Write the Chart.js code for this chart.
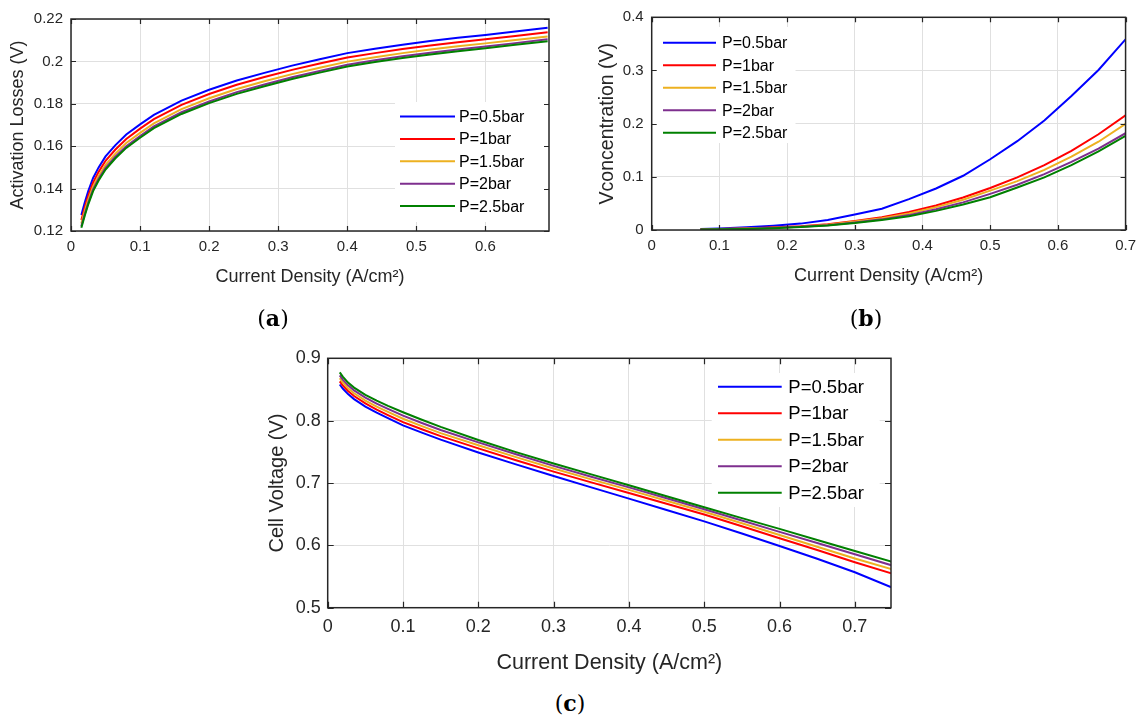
<!DOCTYPE html>
<html><head><meta charset="utf-8">
<script src="https://cdn.jsdelivr.net/npm/chart.js@4/dist/chart.umd.min.js"></script>
<style>
html,body{margin:0;padding:0;background:#fff;}
body{width:1143px;height:720px;position:relative;overflow:hidden;}
canvas{position:absolute;}
.cap{position:absolute;font-family:"DejaVu Serif","Liberation Serif",serif;font-size:22px;color:#000;transform:translate(-50%,-50%);white-space:nowrap;}
</style></head><body>
<canvas id="ca" width="570" height="300" style="left:0;top:0;width:570px;height:300px"></canvas>
<canvas id="cb" width="563" height="300" style="left:580px;top:0;width:563px;height:300px"></canvas>
<canvas id="cc" width="680" height="360" style="left:250px;top:330px;width:680px;height:360px"></canvas>
<div class="cap" style="left:273px;top:318px">(<b>a</b>)</div>
<div class="cap" style="left:866px;top:318px">(<b>b</b>)</div>
<div class="cap" style="left:570px;top:703px">(<b>c</b>)</div>
<script>
// ---------- shared ----------
const seriesLabels = ['P=0.5bar', 'P=1bar', 'P=1.5bar', 'P=2bar', 'P=2.5bar'];
const seriesColors = ['#0000FF', '#FF0000', '#EDB120', '#7E2F8E', '#008000'];
const xTitle = 'Current Density (A/cm²)';

// ---------- (a) Activation losses ----------
const xA = [0.015, 0.02, 0.025, 0.032, 0.04, 0.05, 0.064, 0.08, 0.1, 0.12, 0.16, 0.2, 0.24, 0.28, 0.32, 0.36, 0.4, 0.44, 0.48, 0.52, 0.56, 0.6, 0.64, 0.69];
const actP05 = [0.1275, 0.1335, 0.1388, 0.1450, 0.1500, 0.1552, 0.1604, 0.1655, 0.1703, 0.1748, 0.1815, 0.1866, 0.1910, 0.1946, 0.1980, 0.2010, 0.2039, 0.2060, 0.2079, 0.2096, 0.2111, 0.2125, 0.2140, 0.2159];
const actP1  = [0.1252, 0.1312, 0.1366, 0.1428, 0.1479, 0.1531, 0.1583, 0.1634, 0.1683, 0.1728, 0.1795, 0.1846, 0.1890, 0.1926, 0.1960, 0.1990, 0.2018, 0.2039, 0.2058, 0.2075, 0.2090, 0.2104, 0.2119, 0.2137];
const actP15 = [0.1235, 0.1295, 0.1348, 0.1410, 0.1460, 0.1512, 0.1564, 0.1615, 0.1663, 0.1708, 0.1775, 0.1826, 0.1870, 0.1906, 0.1940, 0.1970, 0.1999, 0.2020, 0.2039, 0.2056, 0.2071, 0.2085, 0.2100, 0.2118];
const actP2  = [0.1222, 0.1281, 0.1334, 0.1396, 0.1446, 0.1498, 0.1550, 0.1600, 0.1648, 0.1693, 0.1760, 0.1811, 0.1855, 0.1891, 0.1925, 0.1955, 0.1984, 0.2005, 0.2024, 0.2041, 0.2056, 0.2070, 0.2085, 0.2104];
const actP25 = [0.1215, 0.1273, 0.1326, 0.1388, 0.1438, 0.1490, 0.1542, 0.1592, 0.1640, 0.1685, 0.1752, 0.1803, 0.1847, 0.1883, 0.1917, 0.1947, 0.1976, 0.1997, 0.2016, 0.2033, 0.2048, 0.2062, 0.2077, 0.2095];
const xTicksA = [0, 0.1, 0.2, 0.3, 0.4, 0.5, 0.6];
const xTickLabelsA = ['0', '0.1', '0.2', '0.3', '0.4', '0.5', '0.6'];
const yTicksA = [0.12, 0.14, 0.16, 0.18, 0.2, 0.22];
const yTickLabelsA = ['0.12', '0.14', '0.16', '0.18', '0.2', '0.22'];

// ---------- (b) Concentration losses ----------
const xB = [0.072, 0.1, 0.14, 0.18, 0.22, 0.26, 0.3, 0.34, 0.38, 0.42, 0.46, 0.5, 0.54, 0.58, 0.62, 0.66, 0.7];
const conP05 = [0.002, 0.003, 0.005, 0.008, 0.012, 0.019, 0.029, 0.040, 0.058, 0.078, 0.102, 0.133, 0.167, 0.206, 0.252, 0.301, 0.3586];
const conP1  = [0.001, 0.002, 0.003, 0.005, 0.007, 0.011, 0.017, 0.024, 0.034, 0.046, 0.061, 0.079, 0.099, 0.122, 0.149, 0.180, 0.2157];
const conP15 = [0.001, 0.002, 0.003, 0.004, 0.006, 0.010, 0.016, 0.022, 0.031, 0.043, 0.057, 0.074, 0.092, 0.113, 0.138, 0.166, 0.1995];
const conP2  = [0.001, 0.0015, 0.0025, 0.004, 0.006, 0.009, 0.014, 0.020, 0.028, 0.039, 0.052, 0.068, 0.085, 0.105, 0.128, 0.153, 0.182];
const conP25 = [0.0008, 0.0012, 0.002, 0.0035, 0.0055, 0.0085, 0.013, 0.019, 0.026, 0.036, 0.048, 0.0615, 0.080, 0.099, 0.122, 0.148, 0.177];
const xTicksB = [0, 0.1, 0.2, 0.3, 0.4, 0.5, 0.6, 0.7];
const xTickLabelsB = ['0', '0.1', '0.2', '0.3', '0.4', '0.5', '0.6', '0.7'];
const yTicksB = [0, 0.1, 0.2, 0.3, 0.4];
const yTickLabelsB = ['0', '0.1', '0.2', '0.3', '0.4'];

// ---------- (c) Cell voltage ----------
const xC = [0.016, 0.02, 0.027, 0.035, 0.05, 0.065, 0.08, 0.1, 0.125, 0.15, 0.2, 0.25, 0.3, 0.35, 0.4, 0.45, 0.5, 0.55, 0.6, 0.65, 0.7, 0.75];
const vP05 = [0.858, 0.8515, 0.8426, 0.8345, 0.8226, 0.8128, 0.8040, 0.7925, 0.7808, 0.7695, 0.749, 0.7298, 0.7113, 0.693, 0.675, 0.6567, 0.6384, 0.619, 0.599, 0.5785, 0.5569, 0.532];
const vP1  = [0.863, 0.8565, 0.8476, 0.8395, 0.8276, 0.8178, 0.8090, 0.7977, 0.7862, 0.7752, 0.7555, 0.7366, 0.7183, 0.7010, 0.684, 0.6667, 0.6494, 0.6307, 0.6115, 0.5925, 0.5729, 0.5545];
const vP15 = [0.868, 0.8612, 0.8520, 0.8440, 0.8322, 0.8225, 0.8140, 0.8030, 0.7913, 0.7800, 0.7605, 0.7415, 0.7232, 0.7058, 0.6890, 0.6715, 0.6540, 0.6355, 0.6165, 0.5978, 0.5790, 0.5615];
const vP2  = [0.8725, 0.8658, 0.8566, 0.8486, 0.8370, 0.8273, 0.8188, 0.8080, 0.7962, 0.7850, 0.7652, 0.7460, 0.7274, 0.7100, 0.6930, 0.6755, 0.6580, 0.6398, 0.6216, 0.6037, 0.5857, 0.5675];
const vP25 = [0.8774, 0.8705, 0.8610, 0.8530, 0.8415, 0.8320, 0.8237, 0.8135, 0.8015, 0.7900, 0.7689, 0.7495, 0.7313, 0.7138, 0.6964, 0.6787, 0.6611, 0.6437, 0.6264, 0.6087, 0.591, 0.5735];
const xTicksC = [0, 0.1, 0.2, 0.3, 0.4, 0.5, 0.6, 0.7];
const xTickLabelsC = ['0', '0.1', '0.2', '0.3', '0.4', '0.5', '0.6', '0.7'];
const yTicksC = [0.5, 0.6, 0.7, 0.8, 0.9];
const yTickLabelsC = ['0.5', '0.6', '0.7', '0.8', '0.9'];

// ---------- helpers ----------
Chart.defaults.font.family = '"Liberation Sans", Arial, Helvetica, sans-serif';
Chart.defaults.color = '#262626';

function makeDatasets(xs, ys) {
  return ys.map((arr, i) => ({
    label: seriesLabels[i],
    data: arr.map((v, k) => ({x: xs[k], y: v})),
    borderColor: seriesColors[i],
    backgroundColor: seriesColors[i],
    borderWidth: 2,
    pointRadius: 0,
    tension: 0,
    fill: false,
    order: ys.length - i
  }));
}

const matlabBox = {
  id: 'matlabBox',
  afterDraw(chart, args, o) {
    const ctx = chart.ctx;
    const {left, top, right, bottom} = chart.chartArea;
    const lg = o.legend;
    ctx.save();
    // legend
    ctx.fillStyle = '#fff';
    ctx.fillRect(lg.box[0], lg.box[1], lg.box[2], lg.box[3]);
    ctx.font = lg.font + 'px "Liberation Sans", Arial, sans-serif';
    ctx.textBaseline = 'middle';
    ctx.textAlign = 'left';
    chart.data.datasets.forEach((ds, i) => {
      const yy = lg.y0 + i * lg.dy;
      ctx.strokeStyle = ds.borderColor;
      ctx.lineWidth = 2;
      ctx.beginPath(); ctx.moveTo(lg.x1, yy); ctx.lineTo(lg.x2, yy); ctx.stroke();
      ctx.fillStyle = '#000';
      ctx.fillText(ds.label, lg.tx, yy + 1);
    });
    // inward ticks
    ctx.strokeStyle = '#262626';
    ctx.lineWidth = 1.2;
    const tl = o.tickLen;
    chart.scales.x.ticks.forEach(t => {
      const px = Math.round(chart.scales.x.getPixelForValue(t.value)) + 0.5;
      ctx.beginPath();
      ctx.moveTo(px, bottom); ctx.lineTo(px, bottom - tl);
      ctx.moveTo(px, top); ctx.lineTo(px, top + tl);
      ctx.stroke();
    });
    chart.scales.y.ticks.forEach(t => {
      const py = Math.round(chart.scales.y.getPixelForValue(t.value)) + 0.5;
      ctx.beginPath();
      ctx.moveTo(left, py); ctx.lineTo(left + tl, py);
      ctx.moveTo(right, py); ctx.lineTo(right - tl, py);
      ctx.stroke();
    });
    // box
    ctx.lineWidth = 1.5;
    ctx.strokeRect(left, top, right - left, bottom - top);
    ctx.restore();
  }
};

function buildChart(id, cfg) {
  return new Chart(document.getElementById(id), {
    type: 'line',
    data: {datasets: makeDatasets(cfg.xs, cfg.ys)},
    plugins: [matlabBox],
    options: {
      responsive: false,
      animation: false,
      events: [],
      layout: {padding: {top: cfg.padTop, right: cfg.padRight, left: 0, bottom: 0}},
      plugins: {
        legend: {display: false},
        tooltip: {enabled: false},
        matlabBox: {legend: cfg.legend, tickLen: cfg.tickLen}
      },
      scales: {
        x: {
          type: 'linear', min: cfg.xMin, max: cfg.xMax,
          afterBuildTicks: s => { s.ticks = cfg.xTicks.map(v => ({value: v})); },
          afterFit: s => { s.height = cfg.xAxisH; },
          grid: {color: '#e0e0e0', lineWidth: 1, drawTicks: false},
          border: {display: false},
          ticks: {autoSkip: false, maxRotation: 0, padding: cfg.xTickPad,
                  font: {size: cfg.tickFont}, color: '#262626',
                  callback: (v, i) => cfg.xTickLabels[i]},
          title: {display: true, text: xTitle, font: {size: cfg.xTitleFont}, color: '#262626',
                  padding: {top: 0, bottom: cfg.xTitlePad}}
        },
        y: {
          type: 'linear', min: cfg.yMin, max: cfg.yMax,
          afterBuildTicks: s => { s.ticks = cfg.yTicks.map(v => ({value: v})); },
          afterFit: s => { s.width = cfg.yAxisW; },
          grid: {color: '#e0e0e0', lineWidth: 1, drawTicks: false},
          border: {display: false},
          ticks: {autoSkip: false, padding: cfg.yTickPad,
                  font: {size: cfg.tickFont}, color: '#262626',
                  callback: (v, i) => cfg.yTickLabels[i]},
          title: {display: true, text: cfg.yTitle, font: {size: cfg.yTitleFont}, color: '#262626',
                  padding: {top: cfg.yTitlePad, bottom: 0}}
        }
      }
    }
  });
}

buildChart('ca', {
  xs: xA, ys: [actP05, actP1, actP15, actP2, actP25],
  xMin: 0, xMax: 0.692, yMin: 0.12, yMax: 0.22,
  xTicks: xTicksA, xTickLabels: xTickLabelsA, yTicks: yTicksA, yTickLabels: yTickLabelsA,
  yTitle: 'Activation Losses (V)',
  padTop: 19, padRight: 21, yAxisW: 71, xAxisH: 69,
  tickFont: 15, xTitleFont: 18, yTitleFont: 18, xTickPad: 7, yTickPad: 8, xTitlePad: 12.2, yTitlePad: 7.2, tickLen: 5,
  legend: {box: [395, 102, 153, 120], x1: 400, x2: 455, tx: 459, y0: 116.5, dy: 22.4, font: 16}
});

buildChart('cb', {
  xs: xB, ys: [conP05, conP1, conP15, conP2, conP25],
  xMin: 0, xMax: 0.7, yMin: 0, yMax: 0.4,
  xTicks: xTicksB, xTickLabels: xTickLabelsB, yTicks: yTicksB, yTickLabels: yTickLabelsB,
  yTitle: 'Vconcentration (V)',
  padTop: 17.3, padRight: 15, yAxisW: 71.7, xAxisH: 70,
  tickFont: 15, xTitleFont: 18, yTitleFont: 19.5, xTickPad: 7, yTickPad: 8, xTitlePad: 13.2, yTitlePad: 16.3, tickLen: 5,
  legend: {box: [72.5, 27, 143, 116], x1: 83, x2: 136, tx: 142, y0: 42.7, dy: 22.5, font: 16}
});

buildChart('cc', {
  xs: xC, ys: [vP05, vP1, vP15, vP2, vP25],
  xMin: 0, xMax: 0.748, yMin: 0.5, yMax: 0.9,
  xTicks: xTicksC, xTickLabels: xTickLabelsC, yTicks: yTicksC, yTickLabels: yTickLabelsC,
  yTitle: 'Cell Voltage (V)',
  padTop: 28.3, padRight: 39, yAxisW: 77.7, xAxisH: 82.3,
  tickFont: 18, xTitleFont: 21.5, yTitleFont: 20, xTickPad: 9, yTickPad: 7, xTitlePad: 14.1, yTitlePad: 15, tickLen: 6,
  legend: {box: [461.7, 43, 168, 134], x1: 468, x2: 531.7, tx: 538.3, y0: 56.7, dy: 26.5, font: 18.5}
});
</script>
</body></html>
